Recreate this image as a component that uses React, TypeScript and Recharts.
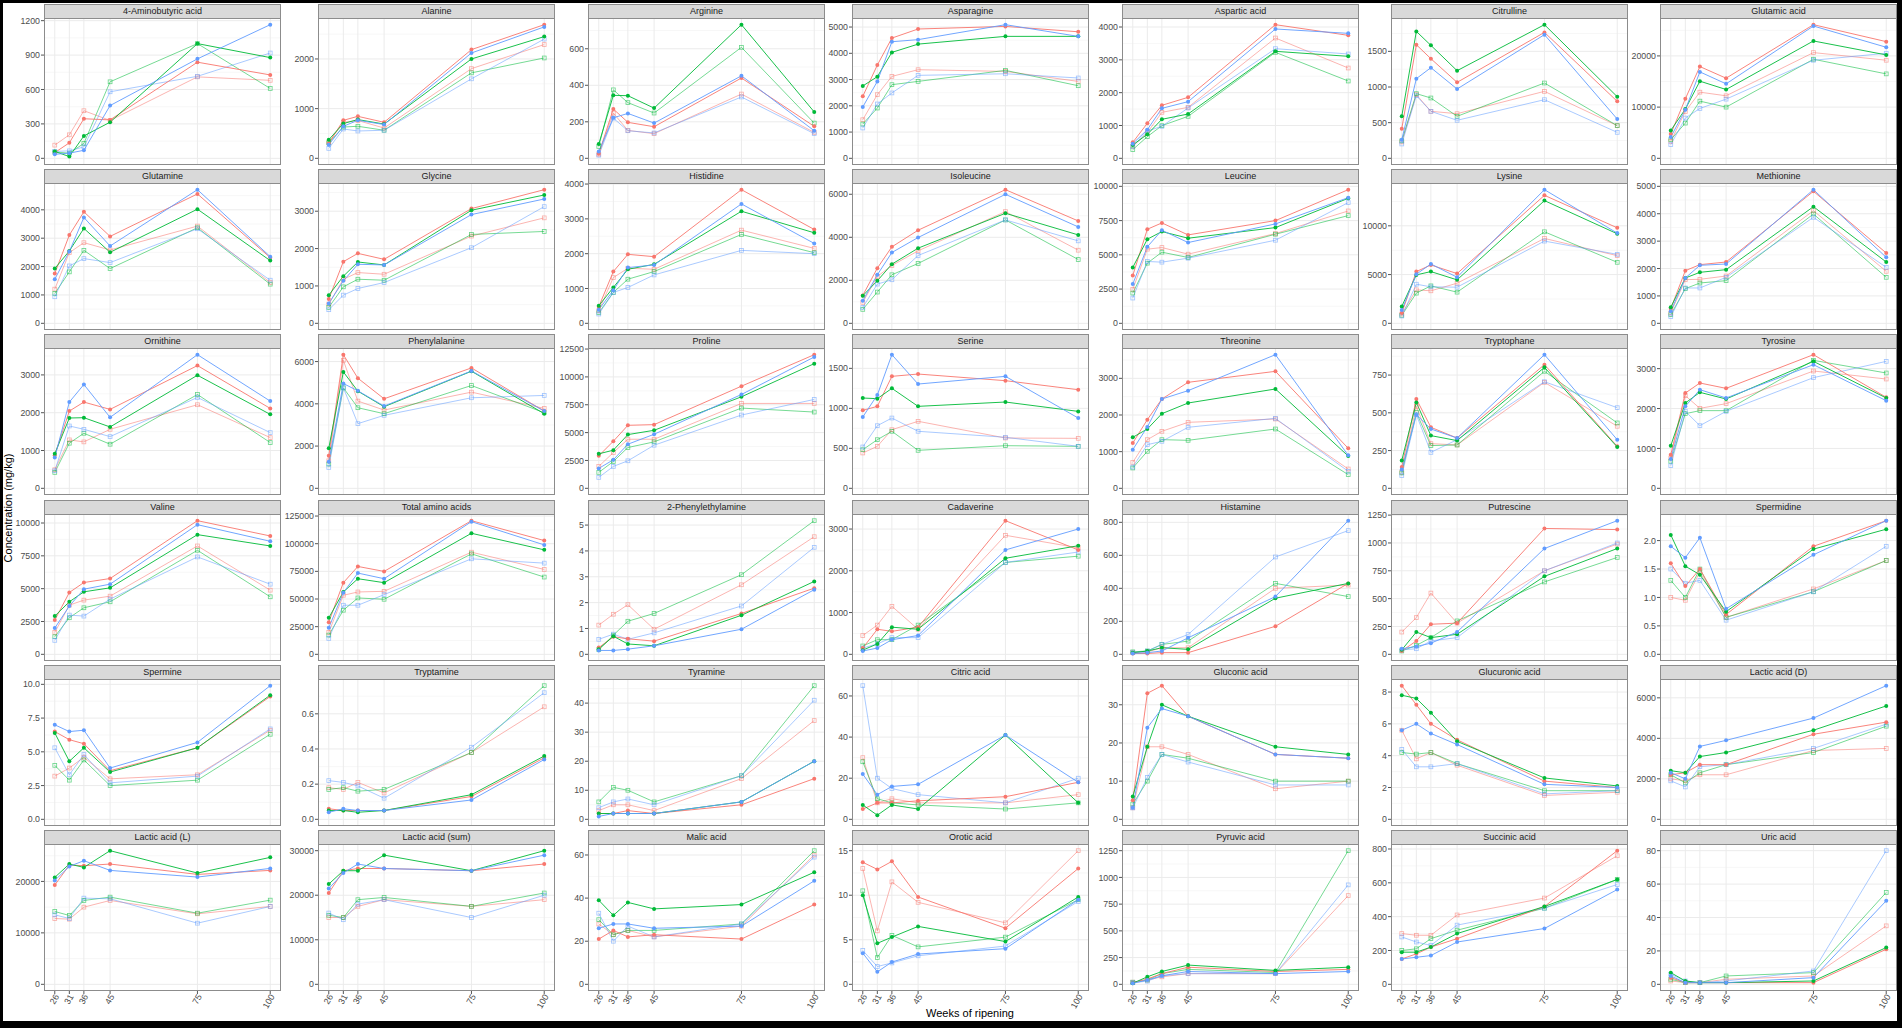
import React from 'react';
import { LineChart, Line, XAxis, YAxis, ReferenceLine } from 'recharts';

// weeks of ripening (x breaks)
const WEEKS = [26, 31, 36, 45, 75, 100];

// every panel: six series, in order red/green/blue filled, then red/green/blue open
const gaba = [
  [50, 135, 345, 335, 838, 727],
  [60, 15, 195, 315, 1000, 878],
  [35, 45, 70, 460, 867, 1165],
  [115, 205, 415, 330, 710, 680],
  [55, 45, 130, 667, 1000, 609],
  [60, 65, 100, 580, 715, 918],
];
const alanine = [
  [300, 765, 845, 725, 2188, 2690],
  [375, 700, 780, 690, 2000, 2450],
  [275, 645, 765, 680, 2120, 2645],
  [320, 725, 760, 610, 1805, 2290],
  [310, 630, 645, 565, 1720, 2020],
  [200, 590, 550, 565, 1600, 2400],
];
const arginine = [
  [25, 270, 197, 173, 440, 175],
  [78, 345, 343, 275, 732, 254],
  [38, 222, 246, 193, 452, 151],
  [22, 248, 153, 135, 352, 142],
  [65, 375, 305, 248, 608, 193],
  [17, 220, 151, 139, 336, 135],
];
const asparagine = [
  [2360, 3553, 4580, 4925, 5025, 4820],
  [2755, 3110, 4035, 4350, 4645, 4645],
  [1955, 2930, 4440, 4520, 5090, 4645],
  [1470, 2425, 3120, 3375, 3310, 2930],
  [1305, 1915, 2805, 2930, 3350, 2765],
  [1155, 2070, 2490, 3160, 3220, 3060],
];
const aspartic = [
  [487, 1066, 1614, 1858, 4071, 3746],
  [406, 731, 1188, 1350, 3259, 3107],
  [447, 873, 1523, 1726, 3940, 3807],
  [365, 781, 1401, 1553, 3665, 2751],
  [264, 660, 995, 1279, 3228, 2355],
  [365, 832, 975, 1533, 3340, 3178],
];
const citrulline = [
  [416, 1593, 1397, 1065, 1766, 799],
  [589, 1780, 1584, 1229, 1874, 864],
  [262, 1117, 1271, 972, 1734, 551],
  [230, 893, 659, 626, 939, 458],
  [245, 907, 846, 589, 1056, 458],
  [201, 878, 659, 533, 822, 364],
];
const glutamic = [
  [4740, 11620, 17920, 15650, 26100, 22790],
  [5450, 9610, 15065, 13440, 22920, 20195],
  [4150, 9480, 16880, 14545, 25840, 21690],
  [3310, 9155, 12920, 12210, 20650, 19155],
  [3640, 6880, 11170, 10000, 19350, 16490],
  [2660, 7860, 9740, 11560, 19155, 20520],
];
const glutamine = [
  [1754, 3111, 3930, 3064, 4560, 2316],
  [1930, 2550, 3345, 2503, 4023, 2210],
  [1556, 2530, 3730, 2725, 4710, 2350],
  [1205, 2491, 2842, 2585, 3427, 1439],
  [1053, 1813, 2573, 1930, 3368, 1380],
  [936, 2023, 2281, 2140, 3333, 1520],
];
const glycine = [
  [648, 1650, 1872, 1712, 3070, 3576],
  [754, 1260, 1641, 1562, 3026, 3434],
  [532, 1136, 1580, 1562, 2910, 3327],
  [515, 1180, 1358, 1313, 2334, 2822],
  [426, 976, 1180, 1153, 2378, 2458],
  [364, 754, 932, 1091, 2023, 3123],
];
const histidine = [
  [476, 1486, 1981, 1914, 3838, 2695],
  [505, 1029, 1552, 1695, 3219, 2600],
  [390, 952, 1600, 1676, 3429, 2295],
  [362, 1314, 1581, 1552, 2676, 2152],
  [305, 886, 1267, 1486, 2552, 2029],
  [267, 886, 1029, 1390, 2095, 2000],
];
const isoleucine = [
  [1298, 2566, 3555, 4328, 6213, 4760],
  [1283, 1978, 2751, 3493, 5116, 4111],
  [1051, 2257, 3292, 3988, 5997, 4482],
  [974, 2179, 2689, 3369, 5193, 3400],
  [649, 1453, 2257, 2782, 4807, 2967],
  [742, 1824, 2025, 3153, 4807, 3833],
];
const leucine = [
  [3495, 6869, 7330, 6456, 7500, 9757],
  [4078, 6141, 6700, 6214, 6990, 9126],
  [2864, 5583, 6796, 5898, 7257, 9175],
  [2476, 5413, 5534, 5049, 6553, 8204],
  [2209, 4393, 5194, 4806, 6505, 7864],
  [1845, 4515, 4466, 4757, 6068, 8811],
];
const lysine = [
  [1054, 5306, 5986, 5102, 13129, 9796],
  [1735, 4966, 5306, 4456, 12585, 9184],
  [1361, 5034, 6088, 4728, 13707, 9252],
  [952, 3435, 3333, 4115, 8707, 6939],
  [816, 3095, 3843, 3197, 9388, 6258],
  [748, 4013, 3741, 3707, 8435, 7075],
];
const methionine = [
  [535, 1922, 2141, 2238, 4818, 2567],
  [584, 1655, 1861, 1959, 4258, 2238],
  [438, 1655, 2117, 2165, 4878, 2409],
  [377, 1594, 1606, 1727, 4112, 1898],
  [316, 1265, 1472, 1557, 3990, 1679],
  [243, 1290, 1290, 1679, 3869, 2044],
];
const ornithine = [
  [877, 2044, 2281, 2088, 3246, 2114],
  [912, 1860, 1868, 1623, 2991, 1956],
  [816, 2281, 2746, 1877, 3535, 2307],
  [491, 1281, 1228, 1561, 2211, 1342],
  [421, 1193, 1456, 1167, 2482, 1211],
  [465, 1649, 1561, 1368, 2404, 1474],
];
const phenylalanine = [
  [1538, 6326, 5212, 4238, 5699, 3658],
  [1900, 5510, 4600, 3862, 5542, 3532],
  [1256, 4961, 4615, 3893, 5557, 3658],
  [1303, 6060, 4129, 3705, 4553, 3783],
  [1146, 4757, 3815, 3532, 4867, 3580],
  [989, 4757, 3061, 3454, 4286, 4396],
];
const proline = [
  [2917, 4226, 5655, 5714, 9167, 11994],
  [3095, 3423, 4821, 5208, 8214, 11190],
  [1786, 2560, 3958, 4851, 8423, 11786],
  [1964, 3214, 4405, 4405, 7619, 7619],
  [1429, 2411, 3661, 4167, 7202, 6845],
  [982, 1964, 2470, 3869, 6577, 7976],
];
const serine = [
  [975, 1025, 1400, 1429, 1346, 1233],
  [1129, 1121, 1250, 1025, 1079, 962],
  [892, 1167, 1671, 1304, 1400, 879],
  [442, 525, 733, 838, 629, 625],
  [483, 608, 713, 475, 533, 525],
  [517, 783, 879, 713, 638, 525],
];
const threonine = [
  [1236, 1873, 2436, 2891, 3191, 1091],
  [1391, 1618, 2036, 2327, 2709, 880],
  [1055, 1673, 2436, 2664, 3645, 900],
  [709, 1327, 1555, 1800, 1891, 527],
  [555, 1009, 1327, 1309, 1618, 373],
  [582, 1191, 1282, 1664, 1909, 464],
];
const tryptophane = [
  [141, 592, 404, 333, 819, 278],
  [185, 569, 349, 316, 801, 274],
  [124, 488, 393, 333, 885, 322],
  [106, 543, 296, 287, 702, 411],
  [102, 503, 283, 287, 775, 433],
  [84, 488, 238, 322, 706, 534],
];
const tyrosine = [
  [844, 2389, 2640, 2506, 3350, 2281],
  [1069, 2139, 2406, 2239, 3183, 2264],
  [735, 2055, 2473, 2264, 3099, 2197],
  [760, 2322, 2005, 2122, 2941, 2740],
  [677, 1871, 1947, 1947, 3208, 2891],
  [568, 1930, 1571, 1930, 2774, 3183],
];
const valine = [
  [2608, 4709, 5468, 5772, 10177, 9013],
  [2911, 4000, 4759, 5063, 9114, 8253],
  [2000, 3671, 4962, 5342, 9873, 8608],
  [1671, 3747, 4127, 4430, 8253, 4886],
  [1342, 2785, 3544, 4000, 7924, 4380],
  [1063, 2987, 2911, 4203, 7418, 5342],
];
const totalAmino = [
  [29077, 64748, 79436, 74940, 120803, 102818],
  [32974, 56355, 68345, 64748, 109412, 94424],
  [23981, 55755, 73441, 68345, 119904, 98921],
  [19784, 53357, 56355, 56954, 92326, 76739],
  [17386, 39868, 50959, 49760, 90827, 69844],
  [14388, 44365, 44365, 53957, 86331, 82434],
];
const phenylethylamine = [
  [0.26, 0.68, 0.6, 0.51, 1.58, 2.56],
  [0.2, 0.7, 0.4, 0.33, 1.51, 2.82],
  [0.15, 0.15, 0.2, 0.33, 0.97, 2.5],
  [1.13, 1.55, 1.92, 0.97, 2.69, 4.55],
  [0.18, 0.74, 1.28, 1.58, 3.08, 5.17],
  [0.58, 0.78, 0.58, 0.83, 1.87, 4.14],
];
const cadaverine = [
  [150, 600, 550, 650, 3200, 2500],
  [100, 250, 650, 600, 2300, 2600],
  [80, 150, 350, 450, 2500, 3000],
  [450, 700, 1150, 600, 2850, 2550],
  [200, 350, 350, 700, 2200, 2350],
  [150, 250, 400, 400, 2200, 2450],
];
const histamine = [
  [5, 5, 10, 10, 170, 430],
  [10, 20, 40, 30, 340, 430],
  [5, 10, 20, 100, 350, 810],
  [10, 15, 40, 40, 400, 420],
  [15, 20, 60, 80, 430, 350],
  [10, 20, 60, 120, 590, 750],
];
const putrescine = [
  [30, 120, 270, 280, 1130, 1120],
  [40, 200, 150, 180, 700, 950],
  [50, 70, 100, 200, 950, 1200],
  [200, 330, 550, 280, 750, 990],
  [30, 80, 150, 300, 650, 870],
  [40, 50, 120, 150, 750, 1000],
];
const spermidine = [
  [1.6, 1.2, 1.5, 0.7, 1.9, 2.35],
  [2.1, 1.55, 1.4, 0.75, 1.85, 2.2],
  [1.9, 1.7, 2.05, 0.8, 1.75, 2.35],
  [1.0, 0.95, 1.45, 0.65, 1.15, 1.65],
  [1.3, 1.0, 1.5, 0.65, 1.1, 1.65],
  [1.5, 1.25, 1.3, 0.6, 1.1, 1.9],
];
const spermine = [
  [6.5, 5.9, 5.6, 3.6, 5.3, 9.1],
  [6.4, 4.3, 5.3, 3.5, 5.3, 9.2],
  [7.0, 6.5, 6.6, 3.8, 5.7, 9.9],
  [3.2, 3.8, 4.6, 3.0, 3.3, 6.6],
  [4.0, 2.9, 4.4, 2.5, 2.9, 6.3],
  [5.3, 3.3, 4.8, 2.7, 3.2, 6.7],
];
const tryptamine = [
  [0.06, 0.05, 0.05, 0.05, 0.13, 0.35],
  [0.05, 0.05, 0.04, 0.05, 0.14, 0.36],
  [0.04, 0.06, 0.05, 0.05, 0.11, 0.34],
  [0.18, 0.17, 0.21, 0.15, 0.38, 0.64],
  [0.17, 0.18, 0.16, 0.17, 0.38, 0.76],
  [0.22, 0.21, 0.19, 0.12, 0.41, 0.72],
];
const tyramine = [
  [2, 2, 3, 2, 5, 14],
  [2, 2, 2, 2, 6, 20],
  [1, 2, 2, 2, 6, 20],
  [3, 5, 5, 3, 14, 34],
  [6, 11, 10, 6, 15, 46],
  [4, 6, 7, 5, 15, 41],
];
const citric = [
  [5, 8, 8, 9, 11, 18],
  [7, 2, 7, 5, 41, 8],
  [22, 12, 16, 17, 41, 18],
  [30, 8, 10, 8, 8, 12],
  [28, 10, 8, 7, 5, 8],
  [65, 20, 15, 12, 8, 20],
];
const gluconic = [
  [5, 33, 35, 27, 17, 16],
  [6, 19, 30, 27, 19, 17],
  [3, 24, 29, 27, 17, 16],
  [3, 19, 19, 17, 8, 10],
  [4, 10, 17, 16, 10, 10],
  [3, 11, 17, 15, 9, 9],
];
const glucuronic = [
  [8.4, 7.2, 6.0, 5.0, 2.4, 2.0],
  [7.8, 7.6, 6.7, 4.9, 2.6, 2.1],
  [5.6, 6.0, 5.4, 4.7, 2.2, 2.0],
  [5.6, 3.8, 4.2, 3.4, 1.5, 1.7],
  [4.2, 4.1, 4.2, 3.5, 1.8, 1.8],
  [4.4, 3.3, 3.3, 3.5, 1.6, 1.8],
];
const lacticD = [
  [2200, 2300, 2700, 2700, 4200, 4800],
  [2400, 2300, 3100, 3300, 4400, 5600],
  [2300, 2000, 3600, 3900, 5000, 6600],
  [2000, 1900, 2200, 2200, 3400, 3500],
  [2200, 1800, 2300, 2700, 3300, 4600],
  [1900, 1600, 2600, 2700, 3500, 4700],
];
const lacticL = [
  [19286, 23182, 23052, 23377, 21364, 22143],
  [20780, 23377, 22727, 25974, 21623, 24675],
  [20195, 22922, 24026, 22143, 20844, 22532],
  [12792, 12662, 15000, 16299, 13701, 15130],
  [14156, 13377, 16299, 16948, 13831, 16364],
  [13506, 12792, 16753, 16623, 11883, 15130],
];
const lacticSum = [
  [20500, 25500, 26000, 26000, 25500, 27000],
  [22500, 25500, 25500, 29000, 25500, 30000],
  [21500, 25000, 27000, 26000, 25500, 29000],
  [15000, 15000, 17500, 19000, 17500, 19000],
  [15500, 15000, 19000, 19500, 17500, 20500],
  [16000, 14500, 18000, 19000, 15000, 20000],
];
const malic = [
  [21, 25, 22, 23, 21, 37],
  [39, 32, 38, 35, 37, 52],
  [26, 28, 28, 26, 27, 48],
  [28, 23, 25, 22, 27, 60],
  [30, 23, 25, 25, 28, 62],
  [33, 20, 27, 22, 28, 59],
];
const orotic = [
  [13.7, 12.9, 13.8, 9.8, 6.3, 13.0],
  [10.0, 4.6, 5.3, 6.5, 4.8, 9.8],
  [3.5, 1.4, 2.5, 3.4, 4.0, 9.5],
  [13.0, 6.0, 11.5, 9.2, 6.9, 15.0],
  [10.5, 3.0, 5.5, 4.2, 5.3, 9.5],
  [3.8, 2.0, 2.4, 3.2, 4.3, 9.3],
];
const pyruvic = [
  [15, 50, 100, 160, 120, 140],
  [10, 70, 120, 180, 130, 160],
  [10, 40, 80, 120, 100, 120],
  [20, 40, 70, 100, 100, 830],
  [20, 40, 100, 140, 110, 1250],
  [15, 30, 80, 100, 100, 930],
];
const succinic = [
  [150, 180, 220, 270, 460, 790],
  [190, 190, 220, 300, 460, 620],
  [150, 160, 170, 250, 330, 560],
  [300, 290, 290, 410, 510, 760],
  [200, 210, 270, 320, 450, 620],
  [280, 250, 230, 350, 450, 590],
];
const uric = [
  [4, 1, 1, 1, 1, 21],
  [7, 2, 1, 1, 2, 22],
  [5, 1, 1, 1, 4, 50],
  [2, 1, 1, 3, 5, 35],
  [3, 1, 1, 5, 7, 55],
  [6, 2, 1, 2, 8, 80],
];

const PANELS = [
  { title: '4-Aminobutyric acid', values: gaba, ticks: [0, 300, 600, 900, 1200], dec: 0 },
  { title: 'Alanine', values: alanine, ticks: [0, 1000, 2000], dec: 0 },
  { title: 'Arginine', values: arginine, ticks: [0, 200, 400, 600], dec: 0 },
  { title: 'Asparagine', values: asparagine, ticks: [0, 1000, 2000, 3000, 4000, 5000], dec: 0 },
  { title: 'Aspartic acid', values: aspartic, ticks: [0, 1000, 2000, 3000, 4000], dec: 0 },
  { title: 'Citrulline', values: citrulline, ticks: [0, 500, 1000, 1500], dec: 0 },
  { title: 'Glutamic acid', values: glutamic, ticks: [0, 10000, 20000], dec: 0 },
  { title: 'Glutamine', values: glutamine, ticks: [0, 1000, 2000, 3000, 4000], dec: 0 },
  { title: 'Glycine', values: glycine, ticks: [0, 1000, 2000, 3000], dec: 0 },
  { title: 'Histidine', values: histidine, ticks: [0, 1000, 2000, 3000, 4000], dec: 0 },
  { title: 'Isoleucine', values: isoleucine, ticks: [0, 2000, 4000, 6000], dec: 0 },
  { title: 'Leucine', values: leucine, ticks: [0, 2500, 5000, 7500, 10000], dec: 0 },
  { title: 'Lysine', values: lysine, ticks: [0, 5000, 10000], dec: 0 },
  { title: 'Methionine', values: methionine, ticks: [0, 1000, 2000, 3000, 4000, 5000], dec: 0 },
  { title: 'Ornithine', values: ornithine, ticks: [0, 1000, 2000, 3000], dec: 0 },
  { title: 'Phenylalanine', values: phenylalanine, ticks: [0, 2000, 4000, 6000], dec: 0 },
  { title: 'Proline', values: proline, ticks: [0, 2500, 5000, 7500, 10000, 12500], dec: 0 },
  { title: 'Serine', values: serine, ticks: [0, 500, 1000, 1500], dec: 0 },
  { title: 'Threonine', values: threonine, ticks: [0, 1000, 2000, 3000], dec: 0 },
  { title: 'Tryptophane', values: tryptophane, ticks: [0, 250, 500, 750], dec: 0 },
  { title: 'Tyrosine', values: tyrosine, ticks: [0, 1000, 2000, 3000], dec: 0 },
  { title: 'Valine', values: valine, ticks: [0, 2500, 5000, 7500, 10000], dec: 0 },
  { title: 'Total amino acids', values: totalAmino, ticks: [0, 25000, 50000, 75000, 100000, 125000], dec: 0 },
  { title: '2-Phenylethylamine', values: phenylethylamine, ticks: [0, 1, 2, 3, 4, 5], dec: 0 },
  { title: 'Cadaverine', values: cadaverine, ticks: [0, 1000, 2000, 3000], dec: 0 },
  { title: 'Histamine', values: histamine, ticks: [0, 200, 400, 600, 800], dec: 0 },
  { title: 'Putrescine', values: putrescine, ticks: [0, 250, 500, 750, 1000, 1250], dec: 0 },
  { title: 'Spermidine', values: spermidine, ticks: [0, 0.5, 1, 1.5, 2], dec: 1 },
  { title: 'Spermine', values: spermine, ticks: [0, 2.5, 5, 7.5, 10], dec: 1 },
  { title: 'Tryptamine', values: tryptamine, ticks: [0, 0.2, 0.4, 0.6], dec: 1 },
  { title: 'Tyramine', values: tyramine, ticks: [0, 10, 20, 30, 40], dec: 0 },
  { title: 'Citric acid', values: citric, ticks: [0, 20, 40, 60], dec: 0 },
  { title: 'Gluconic acid', values: gluconic, ticks: [0, 10, 20, 30], dec: 0 },
  { title: 'Glucuronic acid', values: glucuronic, ticks: [0, 2, 4, 6, 8], dec: 0 },
  { title: 'Lactic acid (D)', values: lacticD, ticks: [0, 2000, 4000, 6000], dec: 0 },
  { title: 'Lactic acid (L)', values: lacticL, ticks: [0, 10000, 20000], dec: 0 },
  { title: 'Lactic acid (sum)', values: lacticSum, ticks: [0, 10000, 20000, 30000], dec: 0 },
  { title: 'Malic acid', values: malic, ticks: [0, 20, 40, 60], dec: 0 },
  { title: 'Orotic acid', values: orotic, ticks: [0, 5, 10, 15], dec: 0 },
  { title: 'Pyruvic acid', values: pyruvic, ticks: [0, 250, 500, 750, 1000, 1250], dec: 0 },
  { title: 'Succinic acid', values: succinic, ticks: [0, 200, 400, 600, 800], dec: 0 },
  { title: 'Uric acid', values: uric, ticks: [0, 20, 40, 60, 80], dec: 0 },
];

const SERIES = [
  { color: '#F8766D', open: false },
  { color: '#00BA38', open: false },
  { color: '#619CFF', open: false },
  { color: '#F8766D', open: true },
  { color: '#00BA38', open: true },
  { color: '#619CFF', open: true },
];
// draw open (faded) series underneath the filled ones
const DRAW_ORDER = [3, 4, 5, 0, 1, 2];

const FONT = '"Liberation Sans", Arial, Helvetica, sans-serif';
const COL_X = [44, 318, 588, 852, 1122, 1391, 1660];
const PANEL_W = 237;
const PLOT_H = 147;
const STRIP_H = 14;
const ROW_PITCH = 165.2;
const AXW = 40;
const PAD = 7; // room above the plot so a top tick label is not clipped
const XAX_H = 30;
const BORDER = '#8c8c8c';
const OPEN_ALPHA = 0.6;

function XTick(props: any) {
  const { x, y, payload } = props;
  return (
    <text
      x={x + 2}
      y={y}
      transform={`rotate(-60 ${x + 2} ${y})`}
      textAnchor="end"
      dy="0.35em"
      fontSize={8.8}
      fill="#4D4D4D"
      fontFamily={FONT}
    >
      {payload.value}
    </text>
  );
}

function openSquare(color: string) {
  return (p: any) => {
    if (p.cx == null || p.cy == null) return <g key={p.index} />;
    return (
      <rect
        key={p.index}
        x={p.cx - 1.9}
        y={p.cy - 1.9}
        width={3.8}
        height={3.8}
        fill="none"
        stroke={color}
        strokeOpacity={OPEN_ALPHA}
        strokeWidth={0.8}
      />
    );
  };
}

function Panel({ p, idx }: { p: any; idx: number }) {
  const col = idx % 7;
  const row = Math.floor(idx / 7);
  const x = COL_X[col];
  const stripTop = 4 + row * ROW_PITCH;
  const plotTop = stripTop + STRIP_H;
  const bottom = row === 5;

  const rows = WEEKS.map((w, i) => {
    const o: any = { w };
    p.values.forEach((s: number[], k: number) => (o['s' + k] = s[i]));
    return o;
  });
  const max = Math.max(...p.values.flat());
  const domain = [-0.05 * max, 1.05 * max];
  const step = p.ticks[1] - p.ticks[0];
  const minor = [p.ticks[0] - step / 2, ...p.ticks.map((t: number) => t + step / 2)].filter(
    (v: number) => v > domain[0] && v < domain[1]
  );

  return (
    <>
      <div style={{ position: 'absolute', left: x - AXW, top: plotTop - PAD }}>
        <LineChart
          width={AXW + PANEL_W}
          height={PAD + PLOT_H + (bottom ? XAX_H : 0)}
          data={rows}
          margin={{ top: PAD, right: 0, bottom: 0, left: 0 }}
        >
          <XAxis
            type="number"
            dataKey="w"
            domain={[22.3, 103.7]}
            ticks={WEEKS}
            interval={0}
            allowDataOverflow
            hide={!bottom}
            height={bottom ? XAX_H : 0}
            axisLine={false}
            tickSize={3}
            tickMargin={1}
            tickLine={{ stroke: '#555' }}
            tick={<XTick />}
          />
          <YAxis
            type="number"
            domain={domain}
            ticks={p.ticks}
            interval={0}
            allowDataOverflow
            width={AXW}
            axisLine={false}
            tickSize={3}
            tickMargin={1}
            tickLine={{ stroke: '#555' }}
            tick={{ fontSize: 8.8, fill: '#4D4D4D', fontFamily: FONT }}
            tickFormatter={(v: number) => v.toFixed(p.dec)}
          />
          {minor.map((v: number) => (
            <ReferenceLine key={'m' + v} y={v} stroke="#F2F2F2" strokeWidth={0.6} />
          ))}
          {p.ticks.map((v: number) => (
            <ReferenceLine key={'y' + v} y={v} stroke="#EBEBEB" strokeWidth={1} />
          ))}
          {WEEKS.map((v) => (
            <ReferenceLine key={'x' + v} x={v} stroke="#EBEBEB" strokeWidth={1} />
          ))}
          {DRAW_ORDER.map((k) => {
            const s = SERIES[k];
            return (
              <Line
                key={k}
                dataKey={'s' + k}
                type="linear"
                stroke={s.color}
                strokeOpacity={s.open ? OPEN_ALPHA : 1}
                strokeWidth={0.9}
                dot={s.open ? openSquare(s.color) : { r: 2, fill: s.color, stroke: s.color, strokeWidth: 0 }}
                activeDot={false}
                isAnimationActive={false}
              />
            );
          })}
        </LineChart>
      </div>
      <div
        style={{
          position: 'absolute',
          left: x,
          top: stripTop,
          width: PANEL_W,
          height: STRIP_H + 1,
          boxSizing: 'border-box',
          background: '#D9D9D9',
          border: `1px solid ${BORDER}`,
          fontFamily: FONT,
          fontSize: 9,
          color: '#1A1A1A',
          textAlign: 'center',
          lineHeight: `${STRIP_H - 1}px`,
          whiteSpace: 'nowrap',
        }}
      >
        {p.title}
      </div>
      <div
        style={{
          position: 'absolute',
          left: x,
          top: plotTop,
          width: PANEL_W,
          height: PLOT_H,
          boxSizing: 'border-box',
          border: `1px solid ${BORDER}`,
          pointerEvents: 'none',
        }}
      />
    </>
  );
}

export default function App() {
  return (
    <div style={{ position: 'fixed', left: 0, top: 0, width: 1902, height: 1028, background: '#000' }}>
      <div style={{ position: 'absolute', left: 3, top: 3, width: 1894, height: 1018, background: '#fff' }}>
        <div style={{ position: 'absolute', left: -3, top: -3 }}>
          {PANELS.map((p, i) => (
            <Panel key={p.title} p={p} idx={i} />
          ))}
          <div
            style={{
              position: 'absolute',
              left: 8,
              top: 508,
              transform: 'translate(-50%, -50%) rotate(-90deg)',
              fontFamily: FONT,
              fontSize: 11,
              color: '#000',
              whiteSpace: 'nowrap',
            }}
          >
            Concentration (mg/kg)
          </div>
          <div
            style={{
              position: 'absolute',
              left: 970,
              top: 1007,
              transform: 'translateX(-50%)',
              fontFamily: FONT,
              fontSize: 11,
              color: '#000',
              whiteSpace: 'nowrap',
            }}
          >
            Weeks of ripening
          </div>
        </div>
      </div>
    </div>
  );
}
